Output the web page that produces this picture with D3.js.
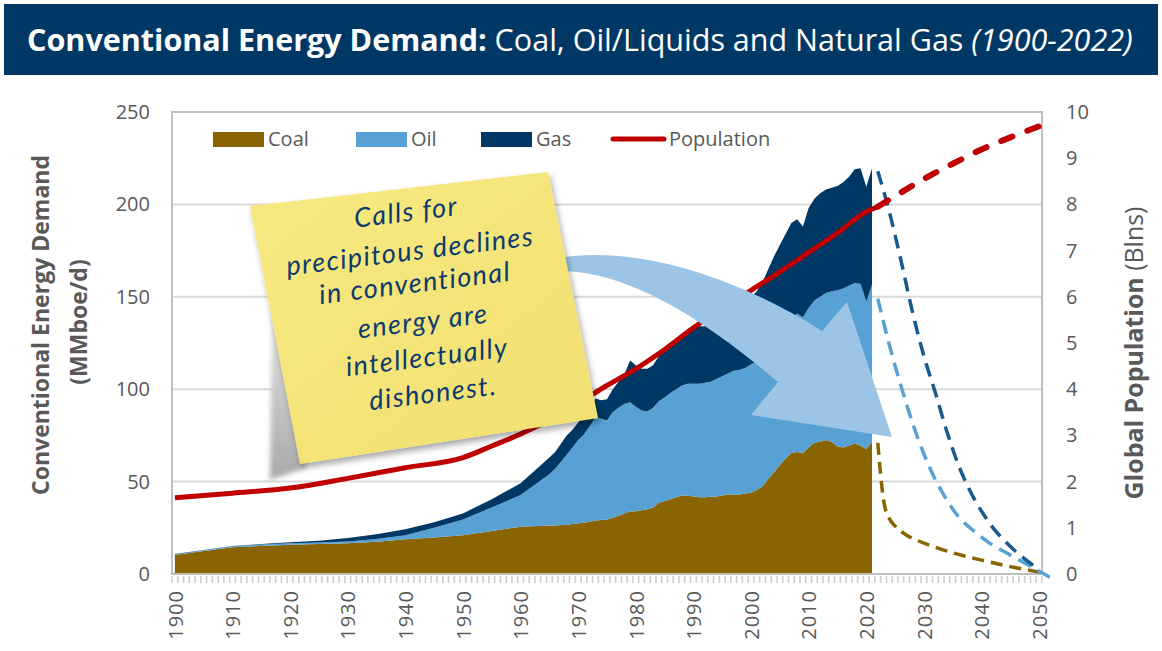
<!DOCTYPE html>
<html>
<head>
<meta charset="utf-8">
<script src="https://cdn.jsdelivr.net/npm/d3@7"></script>
<style>
  body { margin: 0; background: #fff; }
  svg { display: block; font-family: "Open Sans", "Noto Sans", sans-serif; }
</style>
</head>
<body>
<script>
// ---- data ----
const years = [1900,1905,1910,1915,1920,1925,1930,1935,1940,1945,1950,1955,1960,1965,
  1966,1967,1968,1969,1970,1971,1972,1973,1974,1975,1976,1977,1978,1979,1980,1981,1982,1983,1984,1985,
  1986,1987,1988,1989,1990,1991,1992,1993,1994,1995,1996,1997,1998,1999,2000,2001,2002,2003,2004,2005,
  2006,2007,2008,2009,2010,2011,2012,2013,2014,2015,2016,2017,2018,2019,2020,2021];
const coal = [10.3,12.5,14.5,15.2,15.8,16.2,16.7,17.5,18.8,19.8,21.0,23.3,25.6,26.3,
  26.2,26.5,26.5,27.0,27.5,27.8,28.3,29.0,29.2,29.5,30.5,31.5,32.8,33.8,34.0,34.5,35.0,36.0,38.5,39.5,
  40.5,41.5,42.5,42.5,42.0,41.5,41.5,41.8,42.0,42.5,43.0,43.0,43.0,43.5,44.0,45.5,47.5,51.5,55.0,59.0,
  62.5,65.5,66.0,65.5,68.5,71.0,71.5,72.5,71.5,69.0,68.5,69.5,70.5,69.5,67.5,71.5];
const oil = [0.2,0.3,0.5,0.7,0.8,0.8,0.9,1.5,2.2,5.2,8.5,12.7,17.1,27.7,
  30.8,34.3,38.0,41.5,45.0,47.7,51.7,56.0,54.8,53.5,57.0,58.5,59.2,59.2,56.5,54.0,53.0,54.0,55.0,56.0,
  57.5,58.5,59.5,60.5,61.0,61.5,62.0,62.2,63.5,64.5,65.5,67.0,67.5,68.0,69.5,69.5,70.5,70.5,71.0,71.0,
  71.5,72.5,75.0,73.5,75.5,77.0,78.5,79.5,81.5,84.5,86.0,86.5,87.0,87.5,80.0,85.0];
const gas = [0.3,0.2,0.2,0.3,0.6,1.0,1.9,2.5,3.2,3.0,3.3,4.5,6.4,9.0,
  9.0,9.7,10.5,9.5,9.5,10.5,10.0,10.0,10.0,11.5,12.5,14.0,16.0,22.5,22.5,22.5,23.0,23.0,24.5,25.5,
  26.0,27.0,28.0,29.0,30.0,31.0,30.5,31.0,31.5,32.0,32.5,33.0,33.0,34.5,36.5,38.0,40.0,43.0,46.0,48.0,
  50.0,52.0,51.0,49.0,54.0,55.0,56.0,56.0,56.0,56.5,57.5,59.0,61.5,62.5,62.0,63.0];

// projected totals (dashed), MMboe/d, stacked tops
const projYears = [2022,2024,2026,2028,2030,2032,2034,2036,2038,2040,2042,2044,2046,2048,2050];
const projGasTop = [218,196,170,142,118,98,77,59,45,34,25,18,12,7,2];
const projOilYears = [2022,2024,2026,2028,2030,2032,2034,2036,2038,2040,2042,2044,2046,2048,2050,2052];
const projOilTop = [149,124,102,82,65,51,40,31,25,20,15.5,12,8.5,5,1.5,-2];
const projCoalYears = [2022,2023,2024,2025,2027,2029,2032,2035,2040,2045,2050];
const projCoal = [71,40,30,26,21,18,14.5,11.5,7.5,4,1];

// global population, billions
const popYears = [1900,1910,1920,1930,1940,1950,1955,1960,1965,1970,1975,1980,1985,1990,1995,2000,2005,2010,2015,2020,2022];
const popValues = [1.65,1.75,1.86,2.07,2.30,2.52,2.77,3.03,3.34,3.70,4.08,4.44,4.86,5.33,5.74,6.14,6.54,6.96,7.38,7.84,7.95];
const popProjYears = [2022,2025,2030,2035,2040,2045,2050];
const popProjValues = [7.95,8.18,8.55,8.88,9.19,9.45,9.69];

const leftTicks = [0,50,100,150,200,250];
const rightTicks = [0,1,2,3,4,5,6,7,8,9,10];
const xTickYears = [1900,1910,1920,1930,1940,1950,1960,1970,1980,1990,2000,2010,2020,2030,2040,2050];
const legendLabels = ["Coal","Oil","Gas","Population"];
const noteLines = ["Calls for","precipitous declines","in conventional","energy are","intellectually","dishonest."];

// ---- setup ----
const width = 1162, height = 651;
const margin = { top: 112, bottom: 77, left: 172, right: 120 };
const colors = { coal: "#8A6400", oil: "#58A1D4", gas: "#003865", pop: "#C00000",
                 gasDash: "#175A8E", grid: "#D9D9D9", frame: "#BFBFBF", text: "#595959" };

const svg = d3.select("body").append("svg")
  .attr("width", width)
  .attr("height", height);

const x = d3.scaleLinear()
  .domain([1899.5, 2050.5])
  .range([margin.left, width - margin.right]);
const y = d3.scaleLinear()
  .domain([0, 250])
  .range([height - margin.bottom, margin.top]);
const yR = d3.scaleLinear()
  .domain([0, 10])
  .range([height - margin.bottom, margin.top]);

const defs = svg.append("defs");
const noteGrad = defs.append("linearGradient").attr("id", "noteGrad")
  .attr("x1", 0).attr("y1", 0).attr("x2", 1).attr("y2", 1);
noteGrad.append("stop").attr("offset", "0%").attr("stop-color", "#F7E983");
noteGrad.append("stop").attr("offset", "100%").attr("stop-color", "#F1E070");
const curlGrad = defs.append("linearGradient").attr("id", "curlGrad")
  .attr("x1", 0).attr("y1", 0).attr("x2", 0).attr("y2", 1);
curlGrad.append("stop").attr("offset", "0%").attr("stop-color", "#e4e4e4");
curlGrad.append("stop").attr("offset", "100%").attr("stop-color", "#a9a9a9");
const blur = defs.append("filter").attr("id", "blur").attr("x", "-20%").attr("y", "-20%")
  .attr("width", "140%").attr("height", "140%");
blur.append("feGaussianBlur").attr("stdDeviation", 2.5);
const shadow = defs.append("filter").attr("id", "shadow").attr("x", "-10%").attr("y", "-10%")
  .attr("width", "130%").attr("height", "130%");
shadow.append("feDropShadow").attr("dx", 2).attr("dy", 4).attr("stdDeviation", 3)
  .attr("flood-color", "#000").attr("flood-opacity", 0.35);

/* Title bar */
svg.append("rect")
  .attr("x", 4).attr("y", 4).attr("width", width - 8).attr("height", 71)
  .attr("fill", "#003865");
const title = svg.append("text")
  .attr("x", 27).attr("y", 51)
  .attr("fill", "#fff")
  .style("font-size", "28px");
title.append("tspan").attr("font-weight", "bold").text("Conventional Energy Demand:");
title.append("tspan").text(" Coal, Oil/Liquids and Natural Gas ");
title.append("tspan").attr("font-style", "italic").text("(1900-2022)");
fitText(title, 1106);

/* Gridlines */
svg.append("g").selectAll("line")
  .data(leftTicks.filter(d => d > 0 && d < 250))
  .join("line")
  .attr("x1", margin.left).attr("x2", width - margin.right)
  .attr("y1", d => y(d)).attr("y2", d => y(d))
  .attr("stroke", colors.grid).attr("stroke-width", 2);

/* Stacked areas */
const rows = years.map((yr, i) => ({ year: yr, coal: coal[i], oil: oil[i], gas: gas[i] }));
const series = d3.stack().keys(["coal", "oil", "gas"])(rows);
const area = d3.area()
  .x(d => x(d.data.year))
  .y0(d => y(d[0]))
  .y1(d => y(d[1]));
svg.append("g").selectAll("path")
  .data(series)
  .join("path")
  .attr("d", area)
  .attr("fill", d => colors[d.key]);

/* Plot frame and minor ticks */
svg.append("rect")
  .attr("x", margin.left).attr("y", margin.top)
  .attr("width", width - margin.left - margin.right)
  .attr("height", height - margin.top - margin.bottom)
  .attr("fill", "none").attr("stroke", colors.frame).attr("stroke-width", 2);
svg.append("g").selectAll("line")
  .data(d3.range(1899.5, 2051, 1))
  .join("line")
  .attr("x1", d => x(d)).attr("x2", d => x(d))
  .attr("y1", y(0) + 2).attr("y2", y(0) + 9)
  .attr("stroke", "#CFCFCF").attr("stroke-width", 1.6);

/* Projection lines */
const projLine = d3.line().curve(d3.curveMonotoneX);
function drawDash(xs, vs, color, w, dash) {
  svg.append("path")
    .attr("d", projLine(xs.map((yr, i) => [x(yr), y(vs[i])])))
    .attr("fill", "none")
    .attr("stroke", color)
    .attr("stroke-width", w)
    .attr("stroke-dasharray", dash);
}
drawDash(projCoalYears, projCoal, colors.coal, 3.5, "12,7");
drawDash(projOilYears, projOilTop, colors.oil, 3.5, "14,8");
drawDash(projYears, projGasTop, colors.gasDash, 3.5, "14,8");

/* Population */
const popLine = d3.line().curve(d3.curveMonotoneX);
svg.append("path")
  .attr("d", popLine(popYears.map((yr, i) => [x(yr), yR(popValues[i])])))
  .attr("fill", "none").attr("stroke", colors.pop).attr("stroke-width", 5)
  .attr("stroke-linejoin", "round");
svg.append("path")
  .attr("d", popLine(popProjYears.map((yr, i) => [x(yr), yR(popProjValues[i])])))
  .attr("fill", "none").attr("stroke", colors.pop).attr("stroke-width", 6)
  .attr("stroke-linecap", "round")
  .attr("stroke-dasharray", "12,16");

/* Curved arrow */
svg.append("path")
  .attr("d", "M558,258 C640,244 742,280 822,331 L847,302 L892,437 L751,415 L778,382 C712,326 632,270 558,271 Z")
  .attr("fill", "#9CC5E5");

/* Sticky note */
svg.append("path")
  .attr("d", "M272,312 L300,312 L306,468 L270,480 Z")
  .attr("fill", "url(#curlGrad)")
  .attr("filter", "url(#blur)");
svg.append("path")
  .attr("d", "M250,206 L548,172 L598,418 L300,464 Z")
  .attr("fill", "url(#noteGrad)")
  .attr("filter", "url(#shadow)");
const noteCenters = [[406,212],[410,251],[415,283],[423,321],[427,357],[433,393]];
const noteText = svg.append("g")
  .style("font-family", "Lato, 'DejaVu Sans', sans-serif")
  .style("font-style", "italic")
  .style("font-size", "27px")
  .style("letter-spacing", "1.5px")
  .attr("fill", "#0C3B6C");
noteText.selectAll("text")
  .data(noteLines)
  .join("text")
  .attr("text-anchor", "middle")
  .attr("dy", "0.35em")
  .attr("transform", (d, i) => "translate(" + noteCenters[i][0] + "," + noteCenters[i][1] + ") rotate(-7)")
  .text(d => d);

/* Legend */
const legend = svg.append("g").style("font-size", "20px").attr("fill", colors.text);
const legendX = [213, 356, 481, 611];
const legendColors = [colors.coal, colors.oil, colors.gas, colors.pop];
legendLabels.forEach(function(lab, i) {
  if (lab === "Population") {
    legend.append("line")
      .attr("x1", legendX[i] + 2).attr("x2", legendX[i] + 53)
      .attr("y1", 139).attr("y2", 139)
      .attr("stroke", legendColors[i]).attr("stroke-width", 5)
      .attr("stroke-linecap", "round");
    legend.append("text").attr("x", legendX[i] + 58).attr("y", 146).text(lab);
  } else {
    legend.append("rect")
      .attr("x", legendX[i]).attr("y", 132).attr("width", 51).attr("height", 15)
      .attr("fill", legendColors[i]);
    legend.append("text").attr("x", legendX[i] + 55).attr("y", 146).text(lab);
  }
});

/* Axes */
const ejeY = svg.append("g")
  .attr("transform", "translate(150,0)")
  .call(d3.axisLeft(y).tickValues(leftTicks).tickSize(0).tickPadding(0));
const ejeYR = svg.append("g")
  .attr("transform", "translate(1066,0)")
  .call(d3.axisRight(yR).tickValues(rightTicks).tickSize(0).tickPadding(0));
const ejeX = svg.append("g")
  .attr("transform", "translate(0," + y(0) + ")")
  .call(d3.axisBottom(x).tickValues(xTickYears).tickSize(0).tickFormat(d3.format("d")));
ejeX.selectAll("text")
  .attr("transform", "rotate(-90)")
  .attr("x", -16).attr("y", 0).attr("dy", "0.36em")
  .style("text-anchor", "end")
  .style("letter-spacing", "1px");
[ejeY, ejeYR, ejeX].forEach(function(g) {
  g.select(".domain").remove();
  g.selectAll("text")
    .style("font-family", "'Open Sans', sans-serif")
    .style("font-size", "20px")
    .attr("fill", colors.text);
});

/* Axis titles */
const yTitle1 = svg.append("text")
  .attr("transform", "translate(49,325) rotate(-90)")
  .attr("text-anchor", "middle")
  .attr("font-weight", "bold").attr("fill", colors.text)
  .style("font-size", "21px")
  .text("Conventional Energy Demand");
const fs = fitText(yTitle1, 340);
svg.append("text")
  .attr("transform", "translate(87,322) rotate(-90)")
  .attr("text-anchor", "middle")
  .attr("font-weight", "bold").attr("fill", colors.text)
  .style("font-size", fs + "px")
  .text("(MMboe/d)");
const yTitleR = svg.append("text")
  .attr("transform", "translate(1143,353) rotate(-90)")
  .attr("text-anchor", "middle")
  .attr("fill", colors.text)
  .style("font-size", "21px");
yTitleR.append("tspan").attr("font-weight", "bold").text("Global Population");
yTitleR.append("tspan").text(" (Blns)");
fitText(yTitleR, 293);

function fitText(sel, target) {
  const cur = parseFloat(sel.style("font-size"));
  const w = sel.node().getComputedTextLength();
  const nfs = cur * target / w;
  sel.style("font-size", nfs + "px");
  return nfs;
}
</script>
</body>
</html>
